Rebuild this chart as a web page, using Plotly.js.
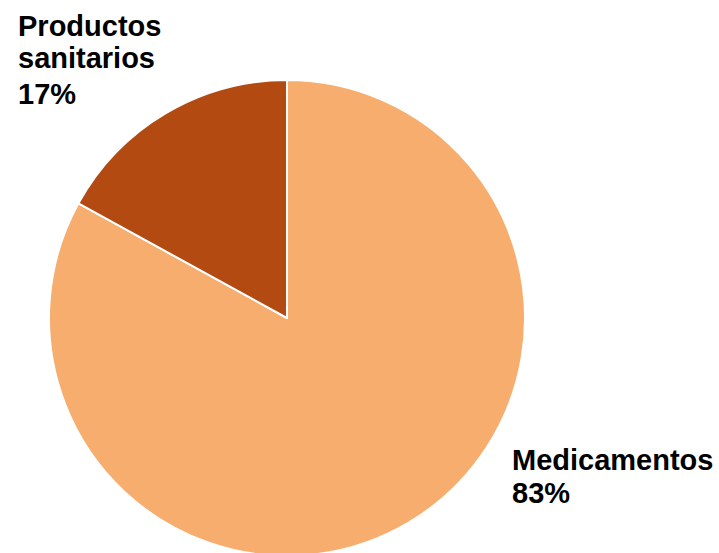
<!DOCTYPE html>
<html>
<head>
<meta charset="utf-8">
<script src="https://cdn.plot.ly/plotly-3.0.1.min.js"></script>
<style>
html,body{margin:0;padding:0;overflow:hidden;background:#fff;width:719px;height:553px;}
#chart{width:719px;height:600px;}
</style>
</head>
<body>
<div id="chart"></div>
<script>
const categories = ["Medicamentos", "Productos sanitarios"];
const shares = [83, 17];
const sliceColors = ["#F6AD6D", "#B24A12"];

const total = shares.reduce((a, b) => a + b, 0);
const pct = shares.map(v => Math.round(v / total * 100) + "%");

const W = 719, H = 600;
// label line text per slice, and pixel positions (left x, vertical centre of each line)
const labelLines = [
  categories[0].split(" ").concat([pct[0]]),
  categories[1].split(" ").concat([pct[1]])
];
const labelLeft = [510, 16];
const lineCentres = [
  [460, 493],
  [26, 58, 94]
];

const annotations = [];
labelLines.forEach((lines, i) => {
  lines.forEach((t, j) => {
    annotations.push({
      xref: "paper", yref: "paper",
      x: labelLeft[i] / W, y: 1 - lineCentres[i][j] / H,
      xanchor: "left", yanchor: "middle",
      align: "left",
      showarrow: false,
      text: t,
      font: {family: "Liberation Sans, Arial, sans-serif", size: 29, color: "#000", weight: "bold"}
    });
  });
});

const cx = 287, cy = 318, r = 238;
Plotly.newPlot("chart", [{
  type: "pie",
  labels: categories,
  values: shares,
  sort: false,
  direction: "clockwise",
  rotation: 0,
  textinfo: "none",
  hoverinfo: "label+percent",
  marker: {colors: sliceColors, line: {color: "#ffffff", width: 2}},
  domain: {x: [(cx - r) / W, (cx + r) / W], y: [(H - cy - r) / H, (H - cy + r) / H]},
  showlegend: false
}], {
  width: W, height: H,
  margin: {l: 0, r: 0, t: 0, b: 0},
  paper_bgcolor: "#ffffff",
  font: {family: "Liberation Sans, Arial, sans-serif"},
  annotations: annotations
}, {displayModeBar: false, staticPlot: true});
</script>
</body>
</html>
